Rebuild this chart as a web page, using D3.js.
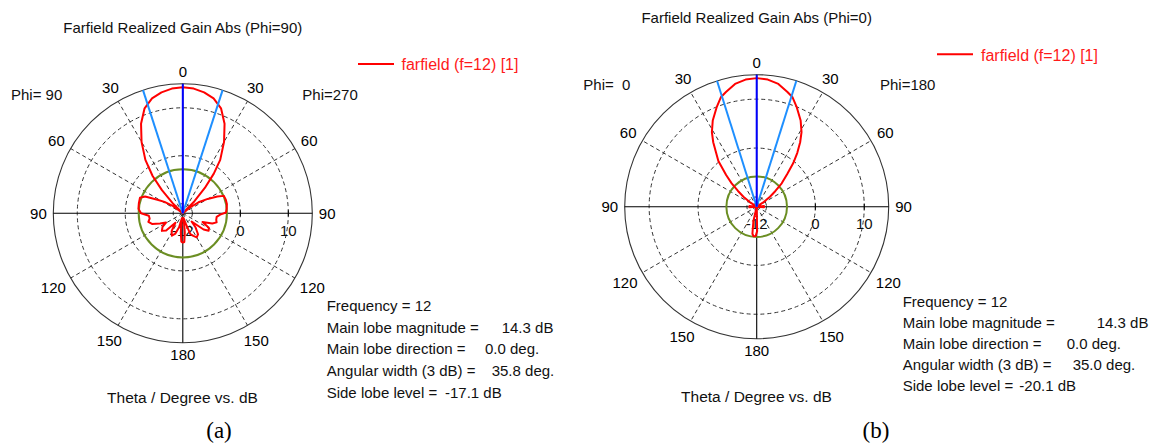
<!DOCTYPE html>
<html><head><meta charset="utf-8">
<script src="https://cdn.jsdelivr.net/npm/d3@7"></script>
<style>
body{margin:0;background:#fff;}
svg text{font-family:"Liberation Sans",Arial,sans-serif;white-space:pre;}
</style></head><body>
<svg id="c" width="1149" height="446"></svg>
<script>
// ---------- data ----------
const radialTicks = [-12, 0, 10];
const gridDb = [-10, 0, 10];
const angleDirs = [0, 30, 60, 90, 120, 150, 180, 210, 240, 270, 300, 330];
const angleLabels = ["0", "30", "60", "90", "120", "150", "180", "150", "120", "90", "60", "30"];
const spokeDirs = [30, 60, 120, 150, 210, 240, 300, 330];

// Phi=90 cut (angle clockwise from top, dB)
const phi90Angle = [0,5,10,15,20,25,30,35,38,41,44,47,51,55,60,64,67,72,78,84,89,92,96,101,105,109,114,119,124,128,133,138,144,150,155,160,165,170,174,177,180,183,186,190,195,200,206,212,218,224,230,236,241,246,251,256,261,266,270,276,283,290,294,298,302,307,312,315,318,321,325,330,335,340,345,350,355];
const phi90Gain  = [14.3,14.1,13.6,12.8,11.3,8.6,5.2,1.6,-1.5,-5,-8.5,-12,-10,-8,-6,-4,-2.7,-2.6,-2.6,-2.8,-3.0,-4.2,-4.9,-4.9,-4.7,-5.5,-7.5,-5.8,-5.5,-6.5,-9.5,-8,-6.6,-6.2,-6.8,-7.4,-10,-11,-8,-6,-5.9,-6.1,-8,-11,-9,-7.5,-6.8,-7.6,-9.5,-7,-6.3,-6.9,-8,-6.8,-5.2,-4.6,-5.0,-4.9,-3.3,-2.7,-2.6,-2.5,-3.4,-6,-7.5,-9.5,-12,-9,-5.5,-2,1.6,5.2,8.6,11.3,12.8,13.6,14.1];

// Phi=0 cut
const phi0Angle = [0,5,10,15,18,22,27,31,34,37,40,43,47,50,53,57,61,75,85,95,105,176,179,182,186,189,193,197,255,265,275,285,299,303,307,310,313,316,320,323,326,329,333,338,342,345,350,355];
const phi0Gain  = [14.3,14.1,13.5,12.3,11.6,9.9,7.8,5.8,3.9,1.8,-0.4,-2.8,-5,-7,-8.6,-10.5,-12,-12,-10.5,-10.5,-12,-12,-7,-6,-5.9,-6.4,-9,-12,-12,-10.5,-10.5,-12,-12,-10.5,-8.6,-7,-5,-3,0.2,1.8,3.9,5.8,7.8,9.9,11.6,12.3,13.5,14.1];

const titles = ["Farfield Realized Gain Abs (Phi=90)", "Farfield Realized Gain Abs (Phi=0)"];
const leftPhi = ["Phi= 90", "Phi=  0"];
const rightPhi = ["Phi=270", "Phi=180"];
const legendLabel = "farfield (f=12) [1]";
const frequency = [12, 12];
const mainLobeMag = [14.3, 14.3];
const mainLobeDir = [0.0, 0.0];
const angularWidth = [35.8, 35.0];
const sideLobeLevel = [-17.1, -20.1];
const captions = ["(a)", "(b)"];
const dbMin = -12, dbMax = 15;

// ---------- layout ----------
const layouts = [
  {cx:182.8, cy:213.3, R:129.5, titleY:33.3, phiY:100, phiLX:11, phiRX:302.3,
   legX1:358, legX2:394, legY:64, legTX:401.5, legTY:70,
   infoX:326.7, infoY:311, infoDy:21.7, valX:[501.7,485,491.7,445],
   thetaX:182.5, thetaY:403.3, capX:219, capY:438},
  {cx:756.7, cy:206.7, R:132, titleY:23.3, phiY:90, phiLX:583.3, phiRX:880,
   legX1:937, legX2:973, legY:54.3, legTX:981, legTY:61,
   infoX:902.7, infoY:306.7, infoDy:21.1, valX:[1096.7,1066.7,1072.7,1019.3],
   thetaX:756.5, thetaY:402.3, capX:876, capY:438}
];

const svg = d3.select("#c");
const rad = Math.PI/180;

function drawPlot(i, angles, gains){
  const L = layouts[i];
  const g = svg.append("g").attr("transform", `translate(${L.cx},${L.cy})`);
  const r = d3.scaleLinear().domain([dbMin, dbMax]).range([0, L.R]).clamp(true);
  const pt = (a, rr) => [rr*Math.sin(a*rad), -rr*Math.cos(a*rad)];

  // dashed grid circles
  g.selectAll("circle.grid").data(gridDb).join("circle")
    .attr("r", d => r(d)).attr("fill","none")
    .attr("stroke","#333").attr("stroke-width",1).attr("stroke-dasharray","4,3");
  // dashed spokes
  g.selectAll("line.spoke").data(spokeDirs).join("line")
    .attr("x1",0).attr("y1",0)
    .attr("x2", d => pt(d, L.R)[0]).attr("y2", d => pt(d, L.R)[1])
    .attr("stroke","#333").attr("stroke-width",1).attr("stroke-dasharray","4,3");
  // outer circle
  g.append("circle").attr("r", L.R).attr("fill","none").attr("stroke","#333").attr("stroke-width",1.1);
  // solid axes
  [0, 90].forEach(a => {
    const p = pt(a, L.R);
    g.append("line").attr("x1",-p[0]).attr("y1",-p[1]).attr("x2",p[0]).attr("y2",p[1])
      .attr("stroke","#000").attr("stroke-width",1.1);
  });
  // ticks on horizontal axis
  g.selectAll("line.tick").data(radialTicks.filter(d => d > dbMin)).join("line")
    .attr("x1", d => r(d)).attr("x2", d => r(d)).attr("y1",-3).attr("y2",3)
    .attr("stroke","#000").attr("stroke-width",1);
  // radial labels
  g.selectAll("text.rl").data(radialTicks).join("text")
    .attr("x", d => r(d)).attr("y", 17).attr("dy","0.36em")
    .attr("text-anchor","middle").attr("font-size",15).attr("fill","#111")
    .text(d => d);
  // angle labels
  angleDirs.forEach((a, k) => {
    const t = g.append("text").attr("text-anchor","middle").attr("dy","0.36em")
      .attr("font-size",15).attr("fill","#000").text(angleLabels[k]);
    const w = t.node().getComputedTextLength()/2, h = 5.4;
    const d = L.R + 6.5 + Math.abs(w*Math.sin(a*rad)) + Math.abs(h*Math.cos(a*rad));
    const p = pt(a, d);
    t.attr("x", p[0]).attr("y", p[1]);
  });

  // side lobe level circle
  g.append("circle").attr("r", r(mainLobeMag[i] + sideLobeLevel[i]))
    .attr("fill","none").attr("stroke","#6b8e23").attr("stroke-width",2);

  // pattern
  const data = angles.map((a, k) => ({a, v: gains[k]}));
  const line = d3.lineRadial().angle(d => d.a*rad).radius(d => r(d.v)).curve(d3.curveLinearClosed);
  g.append("path").datum(data).attr("d", line)
    .attr("fill","none").attr("stroke","#ff0000").attr("stroke-width",2).attr("stroke-linejoin","round");

  // beam width lines
  const hw = angularWidth[i]/2;
  [mainLobeDir[i]-hw, mainLobeDir[i]+hw].forEach(a => {
    const p = pt(a, L.R);
    g.append("line").attr("x1",0).attr("y1",0).attr("x2",p[0]).attr("y2",p[1])
      .attr("stroke","#1e8fff").attr("stroke-width",2);
  });
  const pm = pt(mainLobeDir[i], L.R);
  g.append("line").attr("x1",0).attr("y1",0).attr("x2",pm[0]).attr("y2",pm[1])
    .attr("stroke","#0000ff").attr("stroke-width",2);

  // texts
  svg.append("text").attr("x", L.cx).attr("y", L.titleY).attr("text-anchor","middle")
    .attr("font-size",15).attr("fill","#111").text(titles[i]);
  svg.append("text").attr("x", L.phiLX).attr("y", L.phiY).attr("font-size",15).attr("fill","#111").text(leftPhi[i]);
  svg.append("text").attr("x", L.phiRX).attr("y", L.phiY).attr("font-size",15).attr("fill","#111").text(rightPhi[i]);
  // legend
  svg.append("line").attr("x1", L.legX1).attr("x2", L.legX2).attr("y1", L.legY).attr("y2", L.legY)
    .attr("stroke","#ff0000").attr("stroke-width",2);
  svg.append("text").attr("x", L.legTX).attr("y", L.legTY).attr("font-size",16).attr("fill","#ff1a1a").text(legendLabel);
  // info block
  const labels = ["Frequency = " + frequency[i], "Main lobe magnitude =", "Main lobe direction =",
                  "Angular width (3 dB) =", "Side lobe level ="];
  const vals = [null, mainLobeMag[i].toFixed(1) + " dB", mainLobeDir[i].toFixed(1) + " deg.",
                angularWidth[i].toFixed(1) + " deg.", sideLobeLevel[i].toFixed(1) + " dB"];
  labels.forEach((s, k) => {
    const y = L.infoY + k*L.infoDy;
    svg.append("text").attr("x", L.infoX).attr("y", y).attr("font-size",15).attr("fill","#111").text(s);
    if (vals[k]) svg.append("text").attr("x", L.valX[k-1]).attr("y", y).attr("font-size",15).attr("fill","#111").text(vals[k]);
  });
  svg.append("text").attr("x", L.thetaX).attr("y", L.thetaY).attr("text-anchor","middle")
    .attr("font-size",15.5).attr("fill","#111").text("Theta / Degree vs. dB");
  svg.append("text").attr("x", L.capX).attr("y", L.capY).attr("text-anchor","middle")
    .attr("font-size",23).attr("fill","#000").style("font-family","'Liberation Serif','Times New Roman',serif")
    .text(captions[i]);
}

drawPlot(0, phi90Angle, phi90Gain);
drawPlot(1, phi0Angle, phi0Gain);
</script>
</body></html>
